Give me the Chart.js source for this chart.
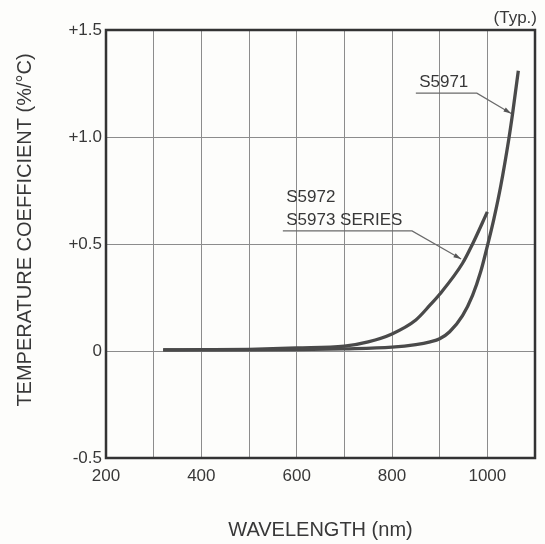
<!DOCTYPE html>
<html>
<head>
<meta charset="utf-8">
<script src="https://cdn.jsdelivr.net/npm/chart.js@4.4.1/dist/chart.umd.min.js"></script>
<style>
html, body { margin: 0; padding: 0; background: #fdfdfb; }
</style>
</head>
<body>
<canvas id="myChart" width="545" height="544"></canvas>
<script>
const ctx = document.getElementById('myChart');

// S5971 curve
let wavelength5971 = [320, 400, 500, 600, 700, 800, 850, 880, 900, 921, 948, 969, 986, 1000, 1014, 1028, 1045, 1053, 1065];
let coef5971 = [0.005, 0.005, 0.005, 0.006, 0.01, 0.018, 0.03, 0.043, 0.057, 0.09, 0.165, 0.26, 0.37, 0.49, 0.62, 0.77, 0.99, 1.11, 1.31];

// S5972 / S5973 series curve
let wavelength5972 = [320, 400, 500, 600, 700, 750, 800, 850, 880, 900, 948, 969, 1000];
let coef5972 = [0.005, 0.006, 0.008, 0.014, 0.023, 0.043, 0.08, 0.145, 0.215, 0.265, 0.41, 0.5, 0.65];

let yTicks = [-0.5, 0, 0.5, 1.0, 1.5];
let xLabels = [200, 400, 600, 800, 1000];

const FONT = '"Liberation Sans", Arial, sans-serif';
const INK = '#383838';

function toPoints(xs, ys) {
    return xs.map((x, i) => ({ x: x, y: ys[i] }));
}

// labels with leader arrows: text position, underline end and arrow tip in data units
let callouts = [
    { lines: ['S5971'], textX: 857, textY: 1.257, lineFrom: 850, lineTo: 978, lineY: 1.205, tipX: 1050, tipY: 1.11 },
    { lines: ['S5972', 'S5973 SERIES'], textX: 578, textY: 0.72, lineFrom: 571, lineTo: 842, lineY: 0.561, tipX: 945, tipY: 0.43 }
];

const frameAndNotes = {
    id: 'frameAndNotes',
    afterDraw(chart) {
        const c = chart.ctx;
        const a = chart.chartArea;
        const xs = chart.scales.x, ys = chart.scales.y;

        // heavy frame
        c.save();
        c.strokeStyle = '#333';
        c.lineWidth = 2.5;
        c.strokeRect(a.left, a.top, a.right - a.left, a.bottom - a.top);

        // y title
        c.fillStyle = INK;
        c.font = '20px ' + FONT;
        c.textAlign = 'center';
        c.textBaseline = 'middle';
        c.translate(25, 230);
        c.rotate(-Math.PI / 2);
        c.fillText('TEMPERATURE COEFFICIENT (%/°C)', 0, 0);
        c.restore();

        c.save();
        c.fillStyle = INK;
        c.font = '17px ' + FONT;
        c.textAlign = 'right';
        c.textBaseline = 'middle';
        c.fillText('(Typ.)', 537, 18);

        c.textAlign = 'left';
        callouts.forEach(n => {
            const tx = xs.getPixelForValue(n.textX);
            let ty = ys.getPixelForValue(n.textY);
            n.lines.forEach((t, i) => c.fillText(t, tx, ty + i * 23));

            const x0 = xs.getPixelForValue(n.lineFrom);
            const x1 = xs.getPixelForValue(n.lineTo);
            const ly = ys.getPixelForValue(n.lineY);
            const px = xs.getPixelForValue(n.tipX);
            const py = ys.getPixelForValue(n.tipY);

            c.strokeStyle = '#6a6a6a';
            c.lineWidth = 1.2;
            c.beginPath();
            c.moveTo(x0, ly);
            c.lineTo(x1, ly);
            c.lineTo(px, py);
            c.stroke();

            const ang = Math.atan2(py - ly, px - x1);
            c.fillStyle = '#555';
            c.beginPath();
            c.moveTo(px, py);
            c.lineTo(px - 8 * Math.cos(ang - 0.3), py - 8 * Math.sin(ang - 0.3));
            c.lineTo(px - 8 * Math.cos(ang + 0.3), py - 8 * Math.sin(ang + 0.3));
            c.closePath();
            c.fill();
            c.fillStyle = INK;
        });
        c.restore();
    }
};

const chart = new Chart(ctx, {
    type: 'scatter',
    data: {
        datasets: [
            {
                label: 'S5971',
                data: toPoints(wavelength5971, coef5971)
            },
            {
                label: 'S5972, S5973 SERIES',
                data: toPoints(wavelength5972, coef5972)
            }
        ]
    },
    options: {
        responsive: false,
        animation: false,
        devicePixelRatio: 1,
        layout: { padding: { top: 30, right: 10, left: 0, bottom: 0 } },
        elements: {
            point: { radius: 0, hoverRadius: 0 },
            line: { borderColor: '#4a4a4a', borderWidth: 3.3, cubicInterpolationMode: 'monotone' }
        },
        datasets: { scatter: { showLine: true, borderColor: '#4a4a4a', backgroundColor: '#4a4a4a' } },
        plugins: {
            legend: { display: false },
            tooltip: { enabled: false }
        },
        scales: {
            x: {
                type: 'linear',
                min: 200,
                max: 1100,
                afterFit: s => { s.height = 86; },
                ticks: {
                    stepSize: 100,
                    autoSkip: false,
                    maxRotation: 0,
                    padding: 8,
                    color: INK,
                    font: { family: FONT, size: 17 },
                    callback: v => xLabels.includes(v) ? String(v) : ''
                },
                grid: { color: '#8c8c8c', lineWidth: 1, drawTicks: false },
                border: { display: false },
                title: {
                    display: true,
                    text: 'WAVELENGTH (nm)',
                    color: INK,
                    font: { family: FONT, size: 20 },
                    padding: { top: 0, bottom: 2 }
                }
            },
            y: {
                min: -0.5,
                max: 1.5,
                afterFit: s => { s.width = 106; },
                afterBuildTicks: s => { s.ticks = yTicks.map(v => ({ value: v })); },
                ticks: {
                    padding: 4,
                    color: INK,
                    font: { family: FONT, size: 17 },
                    callback: v => v === 0 ? '0' : (v > 0 ? '+' : '') + v.toFixed(1)
                },
                grid: { color: '#8c8c8c', lineWidth: 1, drawTicks: false },
                border: { display: false }
            }
        }
    },
    plugins: [frameAndNotes]
});
</script>
</body>
</html>
